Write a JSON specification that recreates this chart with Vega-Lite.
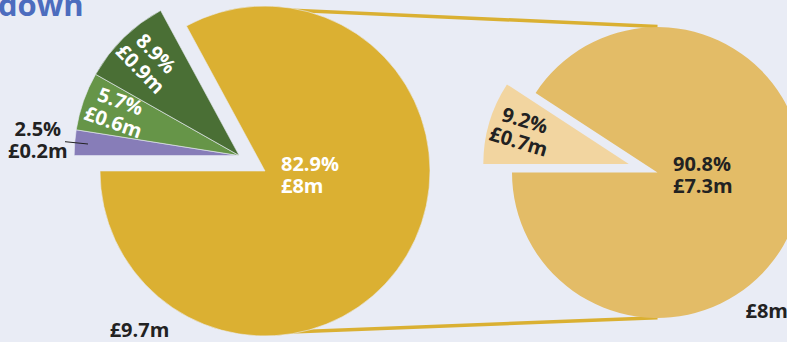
{
  "$schema": "https://vega.github.io/schema/vega-lite/v6.json",
  "width": 787,
  "height": 342,
  "padding": 0,
  "autosize": {"type": "none"},
  "background": "#E9ECF5",
  "config": {
    "view": {"stroke": null},
    "text": {"font": "Open Sans", "fontWeight": "bold", "fontSize": 20, "lineHeight": 22, "lineBreak": "\n"}
  },
  "datasets": {
    "slices": [
      {"pie": "left", "segment": "left-1", "share": 82.9, "label": "82.9%\n£8m", "idx": 1},
      {"pie": "left", "segment": "left-2", "share": 2.5, "label": "2.5%\n£0.2m", "idx": 2},
      {"pie": "left", "segment": "left-3", "share": 5.7, "label": "5.7%\n£0.6m", "idx": 3},
      {"pie": "left", "segment": "left-4", "share": 8.9, "label": "8.9%\n£0.9m", "idx": 4},
      {"pie": "right", "segment": "right-1", "share": 90.8, "label": "90.8%\n£7.3m", "idx": 1},
      {"pie": "right", "segment": "right-2", "share": 9.2, "label": "9.2%\n£0.7m", "idx": 2}
    ],
    "totals": [
      {"pie": "left", "total": "£9.7m"},
      {"pie": "right", "total": "£8m"}
    ]
  },
  "resolve": {"scale": {"theta": "independent"}},
  "layer": [
    {
      "data": {"values": [{"edge": "top"}]},
      "mark": {"type": "rule", "color": "#DAB032", "strokeWidth": 3.5, "yOffset": -162, "y2Offset": -146},
      "encoding": {
        "x": {"datum": "left", "type": "nominal", "scale": {"type": "point", "padding": 0, "domain": ["left", "right"], "range": [265, 657.5]}, "axis": null},
        "x2": {"datum": "right"},
        "y": {"datum": "left", "type": "nominal", "scale": {"type": "point", "padding": 0, "domain": ["left", "right"], "range": [171, 172.5]}, "axis": null},
        "y2": {"datum": "right"}
      }
    },
    {
      "data": {"values": [{"edge": "bottom"}]},
      "mark": {"type": "rule", "color": "#DAB032", "strokeWidth": 3.5, "yOffset": 162, "y2Offset": 145.2},
      "encoding": {
        "x": {"datum": "left", "type": "nominal", "scale": {"type": "point", "padding": 0, "domain": ["left", "right"], "range": [265, 657.5]}, "axis": null},
        "x2": {"datum": "right"},
        "y": {"datum": "left", "type": "nominal", "scale": {"type": "point", "padding": 0, "domain": ["left", "right"], "range": [171, 172.5]}, "axis": null},
        "y2": {"datum": "right"}
      }
    },
    {
      "data": {"name": "slices"},
      "transform": [{"filter": "datum.pie === 'left'"}],
      "mark": {"type": "arc", "radius": 165, "stroke": "#E9ECF5", "strokeWidth": 0.6},
      "encoding": {
        "x": {"field": "pie", "type": "nominal", "scale": {"type": "point", "padding": 0, "domain": ["left", "right"], "range": [265, 657.5]}, "axis": null},
        "y": {"field": "pie", "type": "nominal", "scale": {"type": "point", "padding": 0, "domain": ["left", "right"], "range": [171, 172.5]}, "axis": null},
        "theta": {"field": "share", "type": "quantitative", "stack": true, "scale": {"domain": [0, 100], "range": [-0.49637, 5.78682]}},
        "order": {"field": "idx", "type": "quantitative"},
        "color": {"field": "segment", "type": "nominal", "legend": null, "scale": {"domain": ["left-1", "left-2", "left-3", "left-4", "right-1", "right-2"], "range": ["#DBB032", "#877DB8", "#669548", "#4A6F35", "#E3BC67", "#F2D5A0"]}},
        "opacity": {"condition": {"test": "datum.idx === 1", "value": 1}, "value": 0}
      }
    },
    {
      "data": {"name": "slices"},
      "transform": [{"filter": "datum.pie === 'left'"}],
      "mark": {"type": "arc", "radius": 165, "stroke": "#E9ECF5", "strokeWidth": 0.6, "xOffset": -25.8, "yOffset": -15.4},
      "encoding": {
        "x": {"field": "pie", "type": "nominal", "scale": {"type": "point", "padding": 0, "domain": ["left", "right"], "range": [265, 657.5]}, "axis": null},
        "y": {"field": "pie", "type": "nominal", "scale": {"type": "point", "padding": 0, "domain": ["left", "right"], "range": [171, 172.5]}, "axis": null},
        "theta": {"field": "share", "type": "quantitative", "stack": true, "scale": {"domain": [0, 100], "range": [-0.49637, 5.78682]}},
        "order": {"field": "idx", "type": "quantitative"},
        "color": {"field": "segment", "type": "nominal", "legend": null, "scale": {"domain": ["left-1", "left-2", "left-3", "left-4", "right-1", "right-2"], "range": ["#DBB032", "#877DB8", "#669548", "#4A6F35", "#E3BC67", "#F2D5A0"]}},
        "opacity": {"condition": {"test": "datum.idx !== 1", "value": 1}, "value": 0}
      }
    },
    {
      "data": {"name": "slices"},
      "transform": [{"filter": "datum.pie === 'right'"}],
      "mark": {"type": "arc", "radius": 145.5},
      "encoding": {
        "x": {"field": "pie", "type": "nominal", "scale": {"type": "point", "padding": 0, "domain": ["left", "right"], "range": [265, 657.5]}, "axis": null},
        "y": {"field": "pie", "type": "nominal", "scale": {"type": "point", "padding": 0, "domain": ["left", "right"], "range": [171, 172.5]}, "axis": null},
        "theta": {"field": "share", "type": "quantitative", "stack": true, "scale": {"domain": [0, 100], "range": [-0.99275, 5.29044]}},
        "order": {"field": "idx", "type": "quantitative"},
        "color": {"field": "segment", "type": "nominal", "legend": null, "scale": {"domain": ["left-1", "left-2", "left-3", "left-4", "right-1", "right-2"], "range": ["#DBB032", "#877DB8", "#669548", "#4A6F35", "#E3BC67", "#F2D5A0"]}},
        "opacity": {"condition": {"test": "datum.idx === 1", "value": 1}, "value": 0}
      }
    },
    {
      "data": {"name": "slices"},
      "transform": [{"filter": "datum.pie === 'right'"}],
      "mark": {"type": "arc", "radius": 145.5, "xOffset": -28.7, "yOffset": -8.6},
      "encoding": {
        "x": {"field": "pie", "type": "nominal", "scale": {"type": "point", "padding": 0, "domain": ["left", "right"], "range": [265, 657.5]}, "axis": null},
        "y": {"field": "pie", "type": "nominal", "scale": {"type": "point", "padding": 0, "domain": ["left", "right"], "range": [171, 172.5]}, "axis": null},
        "theta": {"field": "share", "type": "quantitative", "stack": true, "scale": {"domain": [0, 100], "range": [-0.99275, 5.29044]}},
        "order": {"field": "idx", "type": "quantitative"},
        "color": {"field": "segment", "type": "nominal", "legend": null, "scale": {"domain": ["left-1", "left-2", "left-3", "left-4", "right-1", "right-2"], "range": ["#DBB032", "#877DB8", "#669548", "#4A6F35", "#E3BC67", "#F2D5A0"]}},
        "opacity": {"condition": {"test": "datum.idx === 2", "value": 1}, "value": 0}
      }
    },
    {
      "data": {"name": "slices"},
      "transform": [{"filter": "datum.pie === 'left' && datum.idx === 1"}],
      "mark": {"type": "text", "align": "left", "baseline": "alphabetic", "dx": 16, "dy": 0, "color": "#FFFFFF"},
      "encoding": {
        "x": {"field": "pie", "type": "nominal", "scale": {"type": "point", "padding": 0, "domain": ["left", "right"], "range": [265, 657.5]}, "axis": null},
        "y": {"field": "pie", "type": "nominal", "scale": {"type": "point", "padding": 0, "domain": ["left", "right"], "range": [171, 172.5]}, "axis": null},
        "text": {"field": "label"}
      }
    },
    {
      "data": {"name": "slices"},
      "transform": [{"filter": "datum.pie === 'right' && datum.idx === 1"}],
      "mark": {"type": "text", "align": "left", "baseline": "alphabetic", "dx": 15.5, "dy": -1.5, "color": "#222222"},
      "encoding": {
        "x": {"field": "pie", "type": "nominal", "scale": {"type": "point", "padding": 0, "domain": ["left", "right"], "range": [265, 657.5]}, "axis": null},
        "y": {"field": "pie", "type": "nominal", "scale": {"type": "point", "padding": 0, "domain": ["left", "right"], "range": [171, 172.5]}, "axis": null},
        "text": {"field": "label"}
      }
    },
    {
      "data": {"name": "slices"},
      "transform": [{"filter": "datum.pie === 'left'"}],
      "mark": {"type": "text", "align": "center", "baseline": "middle", "radius": 131, "angle": 45.5, "dy": -11, "xOffset": -25.8, "yOffset": -15.4, "color": "#FFFFFF"},
      "encoding": {
        "x": {"field": "pie", "type": "nominal", "scale": {"type": "point", "padding": 0, "domain": ["left", "right"], "range": [265, 657.5]}, "axis": null},
        "y": {"field": "pie", "type": "nominal", "scale": {"type": "point", "padding": 0, "domain": ["left", "right"], "range": [171, 172.5]}, "axis": null},
        "theta": {"field": "share", "type": "quantitative", "stack": true, "scale": {"domain": [0, 100], "range": [-0.49637, 5.78682]}},
        "order": {"field": "idx", "type": "quantitative"},
        "text": {"condition": {"test": "datum.idx === 4", "field": "label"}, "value": ""}
      }
    },
    {
      "data": {"name": "slices"},
      "transform": [{"filter": "datum.pie === 'left'"}],
      "mark": {"type": "text", "align": "center", "baseline": "middle", "radius": 130, "angle": 19.3, "dy": -11, "xOffset": -25.8, "yOffset": -15.4, "color": "#FFFFFF"},
      "encoding": {
        "x": {"field": "pie", "type": "nominal", "scale": {"type": "point", "padding": 0, "domain": ["left", "right"], "range": [265, 657.5]}, "axis": null},
        "y": {"field": "pie", "type": "nominal", "scale": {"type": "point", "padding": 0, "domain": ["left", "right"], "range": [171, 172.5]}, "axis": null},
        "theta": {"field": "share", "type": "quantitative", "stack": true, "scale": {"domain": [0, 100], "range": [-0.49637, 5.78682]}},
        "order": {"field": "idx", "type": "quantitative"},
        "text": {"condition": {"test": "datum.idx === 3", "field": "label"}, "value": ""}
      }
    },
    {
      "data": {"name": "slices"},
      "transform": [{"filter": "datum.pie === 'left'"}],
      "mark": {"type": "text", "align": "center", "baseline": "middle", "radius": 202, "dy": -10, "xOffset": -25.8, "yOffset": -15.4, "color": "#222222"},
      "encoding": {
        "x": {"field": "pie", "type": "nominal", "scale": {"type": "point", "padding": 0, "domain": ["left", "right"], "range": [265, 657.5]}, "axis": null},
        "y": {"field": "pie", "type": "nominal", "scale": {"type": "point", "padding": 0, "domain": ["left", "right"], "range": [171, 172.5]}, "axis": null},
        "theta": {"field": "share", "type": "quantitative", "stack": true, "scale": {"domain": [0, 100], "range": [-0.49637, 5.78682]}},
        "order": {"field": "idx", "type": "quantitative"},
        "text": {"condition": {"test": "datum.idx === 2", "field": "label"}, "value": ""}
      }
    },
    {
      "data": {"name": "slices"},
      "transform": [{"filter": "datum.pie === 'right'"}],
      "mark": {"type": "text", "align": "center", "baseline": "middle", "radius": 112, "angle": 16.6, "dy": -11, "xOffset": -28.7, "yOffset": -8.6, "color": "#222222"},
      "encoding": {
        "x": {"field": "pie", "type": "nominal", "scale": {"type": "point", "padding": 0, "domain": ["left", "right"], "range": [265, 657.5]}, "axis": null},
        "y": {"field": "pie", "type": "nominal", "scale": {"type": "point", "padding": 0, "domain": ["left", "right"], "range": [171, 172.5]}, "axis": null},
        "theta": {"field": "share", "type": "quantitative", "stack": true, "scale": {"domain": [0, 100], "range": [-0.99275, 5.29044]}},
        "order": {"field": "idx", "type": "quantitative"},
        "text": {"condition": {"test": "datum.idx === 2", "field": "label"}, "value": ""}
      }
    },
    {
      "data": {"values": [{"pie": "left"}]},
      "mark": {"type": "rule", "color": "#222222", "strokeWidth": 1, "xOffset": -200, "x2Offset": -177, "yOffset": -29.3, "y2Offset": -27},
      "encoding": {
        "x": {"field": "pie", "type": "nominal", "scale": {"type": "point", "padding": 0, "domain": ["left", "right"], "range": [265, 657.5]}, "axis": null},
        "x2": {"field": "pie"},
        "y": {"field": "pie", "type": "nominal", "scale": {"type": "point", "padding": 0, "domain": ["left", "right"], "range": [171, 172.5]}, "axis": null},
        "y2": {"field": "pie"}
      }
    },
    {
      "data": {"name": "totals"},
      "transform": [{"filter": "datum.pie === 'left'"}],
      "mark": {"type": "text", "align": "center", "baseline": "alphabetic", "dx": -125.5, "dy": 165.5, "color": "#222222"},
      "encoding": {
        "x": {"field": "pie", "type": "nominal", "scale": {"type": "point", "padding": 0, "domain": ["left", "right"], "range": [265, 657.5]}, "axis": null},
        "y": {"field": "pie", "type": "nominal", "scale": {"type": "point", "padding": 0, "domain": ["left", "right"], "range": [171, 172.5]}, "axis": null},
        "text": {"field": "total"}
      }
    },
    {
      "data": {"name": "totals"},
      "transform": [{"filter": "datum.pie === 'right'"}],
      "mark": {"type": "text", "align": "left", "baseline": "alphabetic", "dx": 88, "dy": 145, "color": "#222222"},
      "encoding": {
        "x": {"field": "pie", "type": "nominal", "scale": {"type": "point", "padding": 0, "domain": ["left", "right"], "range": [265, 657.5]}, "axis": null},
        "y": {"field": "pie", "type": "nominal", "scale": {"type": "point", "padding": 0, "domain": ["left", "right"], "range": [171, 172.5]}, "axis": null},
        "text": {"field": "total"}
      }
    },
    {
      "data": {"values": [{"pie": "left", "heading": "down"}]},
      "mark": {"type": "text", "align": "left", "baseline": "alphabetic", "dx": -267, "dy": -155.3, "fontSize": 31, "color": "#4C6CBE"},
      "encoding": {
        "x": {"field": "pie", "type": "nominal", "scale": {"type": "point", "padding": 0, "domain": ["left", "right"], "range": [265, 657.5]}, "axis": null},
        "y": {"field": "pie", "type": "nominal", "scale": {"type": "point", "padding": 0, "domain": ["left", "right"], "range": [171, 172.5]}, "axis": null},
        "text": {"field": "heading"}
      }
    }
  ]
}
